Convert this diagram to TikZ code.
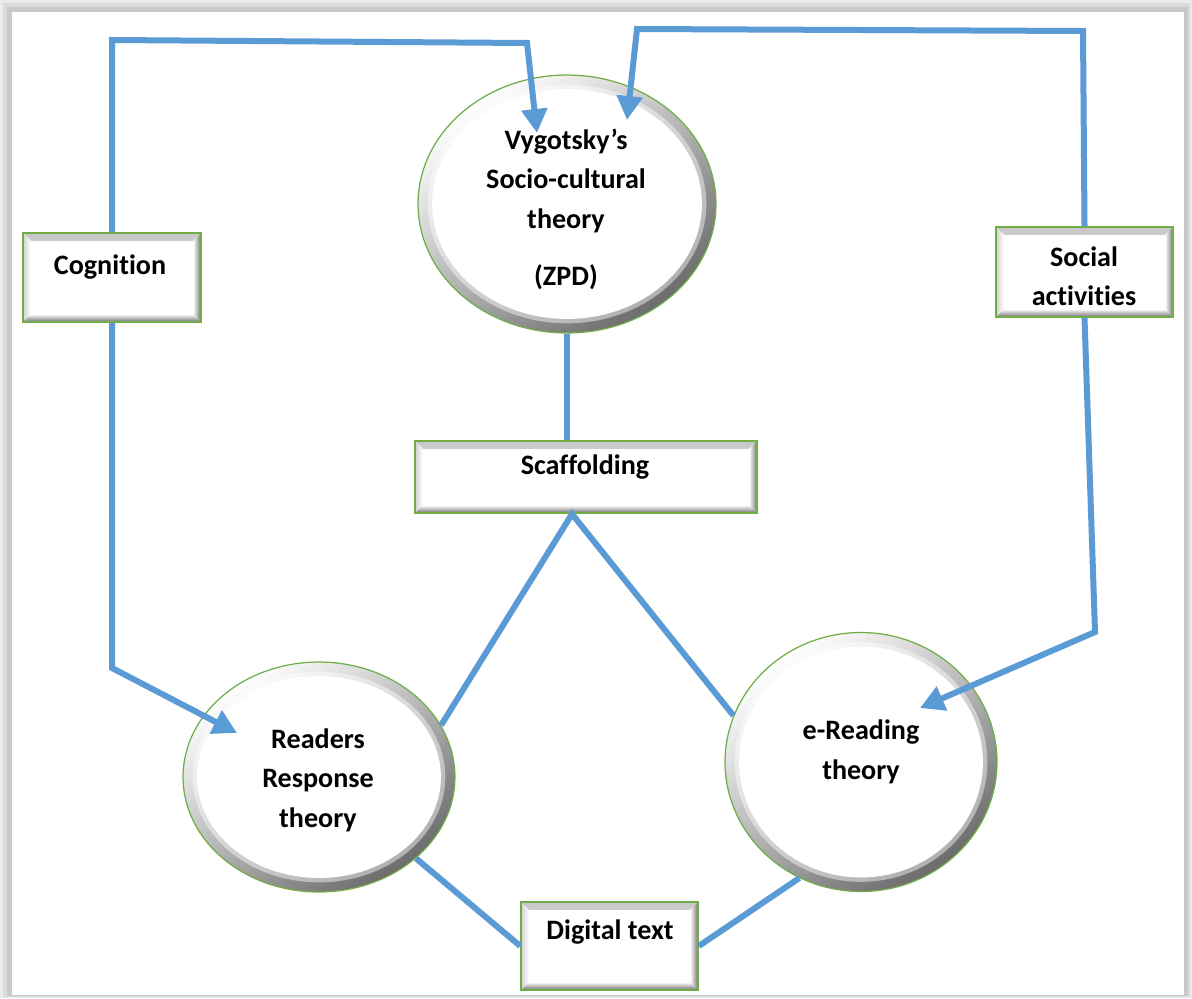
\documentclass[tikz,border=0pt]{standalone}
\usepackage{fontspec}
\setmainfont{Carlito}[Ligatures=NoCommon, RawFeature={-liga;-clig;-calt;-dlig}]
\usetikzlibrary{shapes.geometric,arrows.meta,calc}
\definecolor{linkblue}{RGB}{91,155,213}
\definecolor{rimgreen}{RGB}{112,173,71}

\tikzset{
  link/.style={draw=linkblue, line width=0.12cm},
  arrowlink/.style={link, -{Triangle[length=0.48cm,width=0.5cm]}},
  txt/.style={font=\bfseries\fontsize{16}{22.5}\selectfont, align=center, inner sep=0pt},
  % white disc with a grey rim, lit from the upper left
  theory/.style={ellipse, draw=rimgreen, line width=0.7pt, fill=white, inner sep=0pt,
    path picture={
      \shade[top color=white, bottom color=black!58, shading angle=35]
        (path picture bounding box.south west) rectangle (path picture bounding box.north east);
      \path let \p1=($(path picture bounding box.north east)-(path picture bounding box.south west)$) in
        [fill=white, opacity=0.45] (path picture bounding box.center)
          ellipse [x radius={0.5*\x1-5.5pt}, y radius={0.5*\y1-5.5pt}];
      \path let \p1=($(path picture bounding box.north east)-(path picture bounding box.south west)$) in
        [fill=white] (path picture bounding box.center)
          ellipse [x radius={0.5*\x1-8pt}, y radius={0.5*\y1-8pt}];
    }},
  % bevelled label box
  bevelbox/.style={rectangle, draw=rimgreen, line width=0.9pt, fill=white, inner sep=0pt,
    path picture={
      \shade[top color=black!22, bottom color=white]
        (path picture bounding box.north west) -- (path picture bounding box.north east)
        -- ([shift={(-4.5pt,-4.5pt)}]path picture bounding box.north east)
        -- ([shift={(4.5pt,-4.5pt)}]path picture bounding box.north west) -- cycle;
      \shade[left color=black!18, right color=white]
        (path picture bounding box.north west) -- (path picture bounding box.south west)
        -- ([shift={(4.5pt,4.5pt)}]path picture bounding box.south west)
        -- ([shift={(4.5pt,-4.5pt)}]path picture bounding box.north west) -- cycle;
      \shade[left color=white, right color=black!55]
        (path picture bounding box.north east) -- (path picture bounding box.south east)
        -- ([shift={(-4.5pt,4.5pt)}]path picture bounding box.south east)
        -- ([shift={(-4.5pt,-4.5pt)}]path picture bounding box.north east) -- cycle;
      \shade[top color=white, bottom color=black!55]
        (path picture bounding box.south west) -- (path picture bounding box.south east)
        -- ([shift={(-4.5pt,4.5pt)}]path picture bounding box.south east)
        -- ([shift={(4.5pt,4.5pt)}]path picture bounding box.south west) -- cycle;
    }}
}

\begin{document}
\begin{tikzpicture}[x=0.02cm, y=-0.02cm]
\useasboundingbox (0,0) rectangle (1192,998);

% page with a soft shadow
\fill[black!8] (0,0) rectangle (1192,998);
\fill[black!14] (3,3) rectangle (1190,997);
\fill[black!21] (7,7) rectangle (1188,996);
\fill[white] (12,12) rectangle (1184,995);

% theories
\node[theory, minimum width=5.96cm, minimum height=5.16cm] (vyg) at (567,204) {};
\node[theory, minimum width=5.44cm, minimum height=4.6cm]  (rr)  at (319,777) {};
\node[theory, minimum width=5.44cm, minimum height=5.18cm] (er)  at (861,762) {};

% concept boxes
\node[bevelbox, minimum width=3.56cm, minimum height=1.78cm] (cog)  at (112,277.5) {};
\node[bevelbox, minimum width=3.54cm, minimum height=1.8cm]  (soc)  at (1084.5,272) {};
\node[bevelbox, minimum width=6.84cm, minimum height=1.44cm] (scaf) at (586,477) {};
\node[bevelbox, minimum width=3.54cm, minimum height=1.76cm] (dig)  at (609.5,946) {};

% bends and arrow ends
\coordinate (c1a) at (112,40);
\coordinate (c1b) at (527,43);
\coordinate (c1e) at (537,133);
\coordinate (c2a) at (1083,31);
\coordinate (c2b) at (637,29);
\coordinate (c2e) at (627,120);
\coordinate (c3a) at (112,668);
\coordinate (c3e) at (237,733);
\coordinate (c4a) at (1095,632);
\coordinate (c4e) at (920,708);
\coordinate (apex) at (572,514);

% connectors
\draw[arrowlink] (cog.north) -- (c1a) -- (c1b) -- (c1e);
\draw[arrowlink] (soc.north) -- (c2a) -- (c2b) -- (c2e);
\draw[arrowlink] (cog.south) -- (c3a) -- (c3e);
\draw[arrowlink] (soc.south) -- (c4a) -- (c4e);
\draw[link] (vyg.south) -- (vyg.south |- scaf.north);
\draw[link] (rr.23) -- (apex) -- (er.160);
\draw[link] (rr.-40) -- (dig.west);
\draw[link] (er.-118) -- (dig.east);

% texts
\node[txt] (vygt) at (566,209) {Vygotsky’s\\Socio-cultural\\theory\\[10pt](ZPD)};
\node[txt] (rrt)  at (318,780) {Readers\\Response\\theory};
\node[txt] (ert)  at (861,752) {e-Reading\\theory};
\node[txt] (cogt) at (110,267) {Cognition};
\node[txt] (soct) at (1084,276) {Social\\activities};
\node[txt] (scaft) at (585,467) {Scaffolding};
\node[txt] (digt) at (610,932) {Digital text};
\end{tikzpicture}
\end{document}
